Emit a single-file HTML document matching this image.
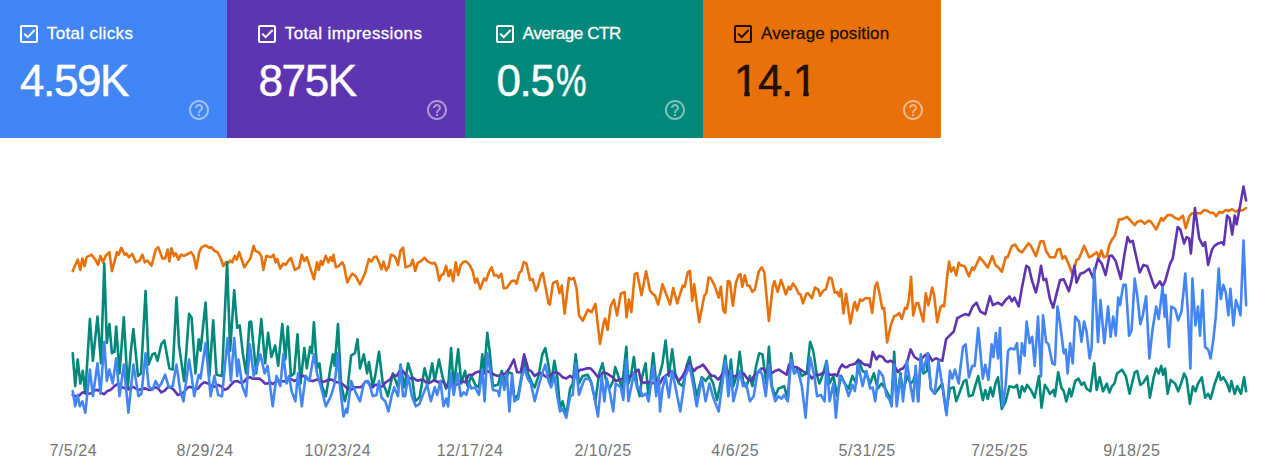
<!DOCTYPE html>
<html lang="en"><head><meta charset="utf-8"><title>Performance</title>
<style>
html,body{margin:0;padding:0;background:#fff;}
body{width:1280px;height:474px;position:relative;overflow:hidden;font-family:"Liberation Sans",sans-serif;}
.card{position:absolute;top:0;height:137.5px;}
.card .cb{position:absolute;top:25.2px;width:18px;height:18px;}
.card .lbl{position:absolute;top:23.5px;font-size:17px;line-height:20px;white-space:nowrap;-webkit-text-stroke:.3px currentColor;}
.card .val{position:absolute;top:57px;font-size:44px;line-height:48px;white-space:nowrap;letter-spacing:-1.4px;-webkit-text-stroke:.45px currentColor;}
.card .val .pct{display:inline-block;transform:scaleX(.78);transform-origin:0 50%;margin-left:2.5px;}
.card .val .one{display:inline-block;clip-path:polygon(0 0,100% 0,100% 72%,69.5% 72%,69.5% 100%,46% 100%,46% 72%,0 72%);}
.card .help{position:absolute;top:97.6px;width:24px;height:24px;opacity:.5;}
svg.chart{position:absolute;left:0;top:0;}
svg.chart polyline{fill:none;stroke-width:2.6;stroke-linejoin:round;stroke-linecap:round;}
svg.chart text{font-family:"Liberation Sans",sans-serif;font-size:16px;fill:#757575;text-anchor:middle;letter-spacing:.55px;}
</style></head><body>
<div class="card" style="left:0px;width:226.5px;background:#4285f4;color:#fff;">
<svg class="cb" style="left:20px" viewBox="0 0 18 18"><path d="M16 2v14H2V2h14m0-2H2C.9 0 0 .9 0 2v14c0 1.1.9 2 2 2h14c1.1 0 2-.9 2-2V2c0-1.100-.9-2-2-2z" fill="#fff"/><path d="M4.200 8.600 7.700 12.100 14.700 5" fill="none" stroke="#fff" stroke-width="2"/></svg>
<div class="lbl" style="left:46.8px;letter-spacing:0.36px">Total clicks</div>
<div class="val" style="left:20px">4.59K</div>
<svg class="help" style="left:186.7px" viewBox="0 0 24 24"><path fill="#fff" d="M11 18h2v-2h-2v2zm1-16C6.480 2 2 6.480 2 12s4.480 10 10 10 10-4.480 10-10S17.520 2 12 2zm0 18c-4.410 0-8-3.590-8-8s3.590-8 8-8 8 3.590 8 8-3.590 8-8 8zm0-14c-2.210 0-4 1.790-4 4h2c0-1.100.9-2 2-2s2 .9 2 2c0 2-3 1.750-3 5h2c0-2.250 3-2.500 3-5 0-2.210-1.790-4-4-4z"/></svg>
</div>
<div class="card" style="left:226.5px;width:238px;background:#5e35b1;color:#fff;">
<svg class="cb" style="left:31.5px" viewBox="0 0 18 18"><path d="M16 2v14H2V2h14m0-2H2C.9 0 0 .9 0 2v14c0 1.1.9 2 2 2h14c1.1 0 2-.9 2-2V2c0-1.100-.9-2-2-2z" fill="#fff"/><path d="M4.200 8.600 7.700 12.100 14.700 5" fill="none" stroke="#fff" stroke-width="2"/></svg>
<div class="lbl" style="left:58.3px;letter-spacing:0.36px">Total impressions</div>
<div class="val" style="left:32.0px">875K</div>
<svg class="help" style="left:198.2px" viewBox="0 0 24 24"><path fill="#fff" d="M11 18h2v-2h-2v2zm1-16C6.480 2 2 6.480 2 12s4.480 10 10 10 10-4.480 10-10S17.520 2 12 2zm0 18c-4.410 0-8-3.590-8-8s3.590-8 8-8 8 3.590 8 8-3.590 8-8 8zm0-14c-2.210 0-4 1.790-4 4h2c0-1.100.9-2 2-2s2 .9 2 2c0 2-3 1.750-3 5h2c0-2.250 3-2.500 3-5 0-2.210-1.790-4-4-4z"/></svg>
</div>
<div class="card" style="left:464.5px;width:238.2px;background:#00897b;color:#fff;">
<svg class="cb" style="left:31.5px" viewBox="0 0 18 18"><path d="M16 2v14H2V2h14m0-2H2C.9 0 0 .9 0 2v14c0 1.1.9 2 2 2h14c1.1 0 2-.9 2-2V2c0-1.100-.9-2-2-2z" fill="#fff"/><path d="M4.200 8.600 7.700 12.100 14.700 5" fill="none" stroke="#fff" stroke-width="2"/></svg>
<div class="lbl" style="left:58.3px;letter-spacing:-0.42px">Average CTR</div>
<div class="val" style="left:32.0px">0.5<span class="pct">%</span></div>
<svg class="help" style="left:198.39999999999998px" viewBox="0 0 24 24"><path fill="#fff" d="M11 18h2v-2h-2v2zm1-16C6.480 2 2 6.480 2 12s4.480 10 10 10 10-4.480 10-10S17.520 2 12 2zm0 18c-4.410 0-8-3.590-8-8s3.590-8 8-8 8 3.590 8 8-3.590 8-8 8zm0-14c-2.210 0-4 1.790-4 4h2c0-1.100.9-2 2-2s2 .9 2 2c0 2-3 1.750-3 5h2c0-2.250 3-2.500 3-5 0-2.210-1.790-4-4-4z"/></svg>
</div>
<div class="card" style="left:702.7px;width:238.1px;background:#e8710a;color:rgba(0,0,0,.87);">
<svg class="cb" style="left:31.5px" viewBox="0 0 18 18"><path d="M16 2v14H2V2h14m0-2H2C.9 0 0 .9 0 2v14c0 1.1.9 2 2 2h14c1.1 0 2-.9 2-2V2c0-1.100-.9-2-2-2z" fill="rgba(0,0,0,.87)"/><path d="M4.200 8.600 7.700 12.100 14.700 5" fill="none" stroke="rgba(0,0,0,.87)" stroke-width="2"/></svg>
<div class="lbl" style="left:58.3px;letter-spacing:0.12px">Average position</div>
<div class="val" style="left:32.0px"><span class="one" style="margin-left:-1px;margin-right:1.2px">1</span>4.<span class="one" style="margin-left:.8px">1</span></div>
<svg class="help" style="left:198.3px" viewBox="0 0 24 24"><path fill="#fff" d="M11 18h2v-2h-2v2zm1-16C6.480 2 2 6.480 2 12s4.480 10 10 10 10-4.480 10-10S17.520 2 12 2zm0 18c-4.410 0-8-3.590-8-8s3.590-8 8-8 8 3.590 8 8-3.590 8-8 8zm0-14c-2.210 0-4 1.790-4 4h2c0-1.100.9-2 2-2s2 .9 2 2c0 2-3 1.750-3 5h2c0-2.250 3-2.500 3-5 0-2.210-1.790-4-4-4z"/></svg>
</div>
<svg class="chart" width="1280" height="474" viewBox="0 0 1280 474">
<polyline points="72.7,271.1 77.7,259.7 80.3,269.9 82.3,258.5 84.6,266.1 86.6,257.2 91.6,254.7 95.4,259.7 98,264.8 100.5,255.9 103,262.3 105.6,255.9 109.4,252.2 111.9,271.1 117,252.2 118.7,254.7 121.3,247.8 124.6,254.7 126.3,253.4 128.9,257.2 132.2,253.9 135.9,262.3 139.7,260.5 142.3,254.7 144.8,262.3 147.3,260.5 151.6,265.6 155.7,249.6 158.2,247.1 162.5,258.5 165.1,258.5 167.6,249.6 169.4,261.5 171.4,248.4 173.9,255.9 175.9,253.4 178.5,259.7 181,254.7 184.1,255.9 191.1,252.2 193.7,255.9 196.2,268.6 199.2,252.2 201.8,247.1 205.6,245.3 209.4,247.8 211.1,247.1 214.4,250.9 217.5,252.2 220.8,258.5 223.3,266.1 225.8,262.3 228.4,263 230.1,260.5 232.2,262.3 234.7,255.9 236.7,259.7 239.2,252.2 241.8,259.7 244.3,267.3 246.8,263.5 250.4,258.5 253.7,245.8 255.4,250.9 258.7,252.2 261.3,255.9 263.3,269.9 266.3,255.9 271.4,257.2 273.4,254.7 275.7,262.3 277.2,259 280.3,268.6 283.3,263.5 285.8,264.8 289.1,259.7 290.9,258 294.9,269.9 299.2,267.3 301.8,254.7 304.3,261 306.8,257.2 313.9,279.2 317,262.3 318.7,269.9 320.8,261 322.5,264.8 325.8,255.9 328.4,262.3 330.4,257.2 332.2,261 333.4,254.7 335.9,267.3 338.5,266.1 342.3,262.3 344.1,266.1 347.3,282.5 350.6,276.2 352.4,273.7 355.7,276.2 360,284.3 365.1,273 368.9,259.1 371.4,261.6 373.9,257.3 376.5,256.5 379.7,264.1 381.5,269.2 383.5,261.6 386.1,270.4 388.4,267.4 390.9,254.7 394.2,256 395.9,258.5 398,264.9 400.5,250.7 403,247.7 405.6,267.4 409.4,265.9 410.6,265.4 412.7,259.8 415.2,270.9 417.7,262.8 420.8,261.3 424.6,257.8 427.8,261.6 432.2,263.6 434.7,262.8 436.7,267.4 439.2,280.6 441.5,275 443.5,274.2 446.1,265.9 448.6,276.3 450.6,269.9 453.2,281.3 455.7,262.3 458.2,275 460.8,264.9 463.8,261.6 466.3,261.6 469.4,264.6 472.7,271.2 475.2,282.6 477.2,278.5 480.3,288.9 484.1,278.5 486.1,280.6 489.1,271.7 491.6,267.4 494.2,275.5 496.7,275 498.7,277.5 501.3,273.7 503.8,288.4 506.8,287.7 511.4,281.3 514.4,280.6 516.5,283.6 519.5,272.5 521.3,271.2 523.8,262.1 526.3,263.4 530.1,280.1 532.7,279.3 535.9,290.7 538,286.4 541,275 542.8,273 548.6,303.4 549.9,304.6 552.9,283.1 557,281.1 559.5,293.2 561.8,285.6 564.6,313.5 568.9,278 571.4,279.3 573.9,278 576.5,288.2 579,315.5 582.8,320.6 587.8,309.7 591.6,312.2 595.4,303.9 600,343.9 603.5,323.6 605.1,318.5 607.6,329.9 610.6,306.4 613.9,299.6 617,315.5 620.8,293.7 624.6,292 626.6,317.3 628.9,299.6 631.4,312.2 634.7,274.2 637.2,273 641.5,295.3 646.1,271.2 649.9,290.2 652.4,293.7 654.9,295.3 658.2,304.6 662.5,284.3 670.1,304.6 673.2,288.1 677.2,303.3 682.8,285.6 684.6,286.8 687.8,272.4 689.9,270.9 692.2,300.8 694.2,284.3 699.2,322.3 704.3,295.7 706.3,293.2 708.6,277.5 710.6,278 714.4,285.1 718.7,297.7 720.8,286.8 723.3,310.4 725.3,312.9 727.8,281 729.9,281.8 732.9,305.8 735.9,283 738.5,275.4 740.5,274.2 742.3,286.8 744.8,275.4 747.3,285.6 749.4,285.6 752.4,291.9 754.9,289.4 758.7,271.6 761.8,267.3 764.3,272.4 768.9,321 772.7,286.8 774.4,281 777.7,291.9 781,280 783.5,286.8 785.8,294.4 788.6,286.8 790.4,289.4 792.9,283.5 795.4,286.8 798.7,293.7 800.5,294.4 803,303.3 806.3,293.7 808.1,293.2 811.9,298.2 814.9,287.6 818.2,289.4 820,295.7 823.3,290.6 825.8,289.4 829.1,277.5 831.6,278.5 834.7,292.7 837.2,291.9 839.2,296.2 841,289.4 843.5,313.4 846.1,293.7 850.4,323.5 853.7,305.3 854.9,302 857,310.4 860,299.5 862.5,300.8 865.1,298.2 869.6,298.2 872.2,312.9 875.2,286.1 877.2,282.5 879.7,294.4 882.3,308.9 884.1,307.8 887.1,342.5 890.9,324.8 894.2,315.9 896.7,315.4 899.2,312.9 901.8,319 905.1,307.8 906.8,308.9 908.9,299.5 911.1,276.7 913.2,315.4 916.2,303.3 918.2,302.8 923.3,321.5 925.8,293.2 928.4,305.3 932.2,287.6 934.2,295.7 937.2,322.3 940.5,307.1 942.3,305.3 944.1,306.3 947.3,275.4 949.1,261.5 951.1,271.6 953.7,267.3 956.2,275.4 958.7,262.8 960,264.9 964.6,266.2 968.9,276.3 972.2,267.5 973.9,270 979.7,257.3 984.1,262.4 987.8,267.5 992.4,256.1 995.4,264.9 998.5,267.5 1001.8,271.8 1005.6,257.3 1007.6,257.3 1011.9,245.9 1015.2,244.7 1018.7,250.5 1022,252.3 1028.4,243.4 1030.9,245.9 1035.9,256.1 1040.5,241.4 1043.5,241.4 1046.1,251 1049.9,257.3 1054.9,257.3 1057.5,249.7 1060,249 1062.5,258.6 1065.1,256.1 1069.4,265.7 1072.7,275.1 1076.5,259.9 1079,258.6 1084.1,245.9 1089.1,257.3 1091.6,256.1 1096.7,252.3 1099.2,257.3 1101.3,250.5 1103.8,257.3 1106.8,256.1 1109.4,244.7 1111.9,239.6 1114.9,235.8 1119,219.4 1122,219.4 1127.1,216.8 1134.7,225.2 1137.2,221.9 1141,220.6 1144.8,223.7 1148.6,220.6 1151.1,221.9 1156.2,229.5 1161.3,218.1 1163,220.6 1167.6,215.1 1171.4,215.1 1175.2,218.1 1179,219.4 1182.8,215.6 1185.8,228.2 1189.1,216.8 1191.6,213.5 1196.7,213 1200.5,213.5 1204.3,210 1206.8,210.5 1210.6,213 1213.2,212.5 1216.2,216.1 1219.5,211.8 1222,213 1225.8,210 1228.4,211 1232.2,209.2 1235.9,211.8 1238.5,210 1242.3,210.5 1246.1,208" stroke="#e8710a"/>
<polyline points="72.7,353.2 75.2,386.1 77.7,359.5 80.3,383.5 82.8,370.9 85.3,393.7 89.9,319 92.9,360.8 97.5,316.5 101,363.3 104.3,263.5 106.8,343 109.4,324.1 111.9,353.2 114.4,351.9 116.2,326.6 119.5,373.4 123.8,317.2 127.8,388.6 130.9,350.6 133.4,329.1 138,375.9 141,373.4 145.6,291.1 148.6,364.6 152.4,354.4 154.9,353.2 157.5,360.8 161.3,344.3 164.3,340.5 169.4,368.4 172.7,369.6 176.5,297.5 179,345.6 184.1,381 189.1,313.9 191.6,317.7 195.4,373.4 198.7,339.2 200.5,350.6 205.6,302.5 209.4,375.9 213.2,320.3 216.5,374.7 222,375.9 227.1,262 230.1,350.6 234.2,290.4 237.2,327.8 239.7,325.3 242.8,353.2 246.1,373.4 249.4,322.3 251.1,321.5 256.2,373.4 261.3,319 265.1,363.3 268.1,332.9 271.4,357 275.2,345.6 278.2,365.8 282.3,324.1 285.3,359.5 287.8,326.6 290.9,375.9 294.2,373.4 297.5,334.2 300.5,383.5 304.3,348.1 306.8,368.4 310.1,346.8 311.9,353.2 313.9,322.3 317,368.4 319.5,363.3 322,386.1 325.8,396.2 329.6,373.4 332.9,354.4 334.7,365.8 338,324.1 341,383.5 344.8,401.3 347.3,391.1 351.1,355.7 354.9,353.2 357.5,339.2 360,368.4 363.8,354.4 367.1,373.4 368.9,362 372.7,386.1 375.2,375.9 379,351.9 382.8,383.5 385.3,388.6 387.8,396.2 392.9,373.4 398,387.3 400.5,364.6 404.3,387.3 408.1,363.3 411.9,375.9 415.2,401.3 419.5,397.5 424.6,368.4 428.4,383.5 432.2,363.3 434.7,381 439,359.5 442.3,375.9 446.1,388.6 448.6,381 451.1,348.1 453.7,387.3 458.2,349.4 461.3,383.5 465.1,370.9 467.6,386.1 471.4,375.9 475.2,384.8 479,387.3 482.3,354.4 484.1,373.4 487.3,332.9 489.6,350.6 492.9,386.1 498,384.8 501.8,370.9 505.6,383.5 508.1,372.2 511.9,373.4 514.4,398.7 518.2,394.9 522,373.4 524.6,360.8 528.4,374.7 532.2,383.5 534.7,387.3 538.5,375.9 542.3,354.4 545.3,348.1 548.6,365.8 551.1,383.5 554.4,360.8 557.5,378.5 560,408.9 562.5,401.3 566.3,415.2 570.1,388.6 572.7,383.5 575.7,354.4 579,383.5 582.8,375.9 587.8,374.7 591.6,383.5 595.4,401.3 599.2,373.4 602.5,363.3 605.6,378.5 609.4,388.6 613.2,381 615.2,367.1 618.2,375.9 622,388.6 626.3,346.8 628.4,383.5 630.9,375.9 633.9,357 637.2,386.1 639.7,396.2 642.3,375.9 645.6,363.3 648.6,398.7 653.2,353.2 656.2,383.5 660,373.4 662.5,363.3 665.6,340.5 668.9,375.9 672.2,349.4 675.2,373.4 679,383.5 682.8,386.1 686.6,365.8 689.6,357 692.9,375.9 696.7,396.2 701.8,377.2 705.6,381 709.4,375.9 713.2,383.5 717,400 722,375.9 725.3,355.7 728.4,383.5 730.9,359.5 733.4,386.1 737.2,373.4 739.7,351.9 743,381 746.1,387.3 749.9,375.9 752.4,386.1 756.2,365.8 759.2,353.2 762.5,354.4 766.3,383.5 768.9,346.8 771.9,386.1 775.2,396.2 778.5,388.6 781.5,387.3 784.1,386.1 787.8,398.7 791.1,353.2 794.2,373.4 798,368.4 801.8,375.9 806.8,373.4 810.1,341.8 813.2,350.6 817,375.9 819.5,383.5 823.3,373.4 826.6,360.8 829.6,383.5 833.4,375.9 837.2,396.2 841,375.9 844.8,383.5 848.6,388.6 852.4,375.9 856.2,383.5 858.2,359.5 862.5,370.9 866.3,373.4 870.1,383.5 873.9,373.4 877.7,388.6 881.5,383.5 885.3,388.6 889.1,396.2 891.6,398.7 894.2,351.9 896.7,401.3 900.5,373.4 903,393.7 906.8,375.9 910.6,383.5 913.2,381 915.7,373.4 918.2,401.3 920.8,358.2 923.3,373.4 927.1,370.9 927.8,353.2 930.9,388.6 934.7,393.7 938.5,388.6 942.3,383.5 946.1,411.4 949.9,388.6 953.7,387.3 956.2,401.3 958.7,394.9 960,391.3 963.8,381.1 966.3,379.9 968.9,396.3 972.7,395.1 975.2,386.2 978.2,376.1 982.8,400.1 985.3,390 987.8,398.9 990.4,387.5 992.9,396.3 995.4,383.7 998,377.3 1001.8,409 1005.6,401.4 1009.4,386.2 1014.4,387.5 1017,384.9 1019.5,397.6 1022,386.2 1024.6,391.3 1027.1,384.9 1030.9,390 1034.7,397.6 1039,376.1 1041.5,407.7 1044.8,384.9 1047.3,388.7 1049.9,393.8 1053.7,390 1054.9,396.3 1058.2,372.3 1061.3,387.5 1063.8,391.3 1066.3,401.4 1069.4,388.7 1071.4,396.3 1075.2,381.1 1078.5,378.6 1081.5,384.9 1084.1,382.4 1086.6,388.7 1090.4,391.3 1094.2,363.4 1096.7,390 1099.7,377.3 1103,391.3 1106.8,383.7 1109.4,392.5 1111.9,386.2 1114.4,383.7 1117,373.5 1122,369.7 1125.8,376.1 1129.6,393.8 1134.7,372.3 1137.2,371 1140.3,384.9 1143.5,382.4 1147.3,376.1 1149.9,397.6 1153.7,377.3 1156.2,368.5 1158.7,373.5 1161.3,365.9 1163,374.8 1165.1,368.5 1167.6,393.8 1170.6,379.9 1175.2,383.7 1178.2,391.3 1181.5,382.4 1184.1,373.5 1186.6,378.6 1189.9,403.9 1192.9,386.2 1195.4,391.3 1198,383.7 1201.8,377.3 1205.1,397.6 1208.1,393.8 1210.6,398.9 1214.4,384.9 1218.7,372.3 1220.8,379.9 1223.3,377.3 1227.1,383.7 1229.6,391.3 1231.4,381.1 1234.7,393.8 1237.2,386.2 1241,393.8 1244.1,377.3 1246.1,391.3" stroke="#00897b"/>
<polyline points="72.7,394.9 75.8,396.4 79,395.7 82.2,392.6 85.3,392.4 88.4,393.8 91.6,393.2 94.8,390.3 98,389.9 101.2,392.9 104.3,394.2 107.4,390.9 110.6,389.9 114.4,386.1 118.2,383.5 122,387.3 125.8,388.6 128.3,389.4 130.9,387.3 133.4,387 135.9,388.6 139.1,389.9 142.3,388.6 145.4,388.4 148.6,389.9 151.8,389.7 154.9,387.3 158.1,388.5 161.3,392.4 164.4,390.8 167.6,387.3 170.8,387.3 173.9,389.9 177.7,394.9 181.5,393.7 184.1,392 186.6,388.6 189.1,386.8 191.6,387.3 194.8,389.4 198,388.6 201.2,384.5 204.3,382.3 208.1,383.5 211.9,386.1 215.1,386.7 218.2,384.8 221.4,386.5 224.6,389.9 227.8,388.5 230.9,384.8 234.1,381.5 237.2,381 240.3,382.6 243.5,382.3 246.7,378.5 249.9,377.2 253.1,378.7 256.2,378.5 259.4,378.6 262.5,381 265.1,383.6 267.6,383.5 270.1,382.1 272.7,384 275.2,382.3 278.4,380.8 281.5,381 284.6,381.5 287.8,379.7 291,379 294.2,381 297.4,379.4 300.5,375.9 303.6,375.9 306.8,378.5 310,380.6 313.2,381 316.4,379.6 319.5,380.5 322.6,382.1 325.8,381 329,379.4 332.2,379.7 335.4,382.3 338.5,382.3 341.6,383.4 344.8,386.1 348,389.1 351.1,389.9 354.3,387.2 357.5,387.3 360,387.3 362.5,386.2 365.1,381.8 367.6,381 370.1,385 372.7,387.3 375.2,384.9 377.7,384.8 380.2,386.9 382.8,386.1 385.3,382.6 387.8,381 390.4,379.1 392.9,374.7 396.7,375.9 400.5,369.6 403.1,371.3 405.6,374.7 408.1,377.7 410.6,378.5 413.1,377.7 415.7,379.7 418.2,380.7 420.8,379.7 423.3,379.7 425.8,382.3 428.4,383.1 430.9,382.3 433.4,380.5 435.9,381 438.4,382.4 441,381 443.5,382.1 446.1,386.5 448.6,387.3 451.8,385.2 454.9,384.8 458.1,384 461.3,381 465.1,382.3 468.9,374.7 472.7,374.7 476.5,372.2 479,371.4 481.5,373.4 484.1,373.1 486.6,370.9 490.4,372.2 494.2,374.7 498,375.9 501.8,374.7 505.6,373.4 509.4,368.4 513.9,359.5 517,372.2 520.8,372.2 524.1,354.4 528.4,369.6 531.5,371.5 534.7,375.9 538.5,373.4 542.3,373.4 544.8,376.1 547.3,377.2 551.1,374.7 554.9,372.2 558.7,373.4 562.5,377.2 566.3,378.5 570.1,375.9 573.9,378.5 577.7,372.2 580.2,369.8 582.8,369.6 586.6,368.4 590.4,368.4 594.2,372.2 598,377.2 600.5,376.1 603,372.2 606.8,373.4 610.6,375.9 613.2,377.5 615.7,381 619.5,379.7 623.3,378.5 627.1,377.2 630.9,375.9 634.7,372.2 638.5,369.6 641,381 643.5,382.9 646.1,382.3 648.6,382.1 651.1,383.5 654.3,382.7 657.5,379.7 660,383.5 662.5,378.3 665.1,375.9 667.6,374.4 670.1,370.9 672.7,372.1 675.2,375.9 679,381 682.8,375.9 686.6,368.4 689.1,363.3 691.7,367.9 694.2,370.9 696.7,367.9 699.2,367.1 703,364.6 706.8,369.6 709.4,373.4 711.9,376 714.4,375.9 718.2,379.7 722,374.7 725.8,370.9 728.3,371.8 730.9,374.7 733.4,376.6 735.9,375.9 739.7,373.4 743.5,373.4 747.3,378.5 751.1,381 753.7,376.4 756.2,373.4 758.8,372 761.3,368.4 763.8,368.9 766.3,372.2 768.8,373.8 771.4,373.4 775.2,370.9 779,369.6 782.8,372.2 786.6,374.7 789.1,364.6 792.9,367.1 796.7,367.1 800.5,369.6 804.3,372.2 808.1,373.4 811.9,378.5 814.5,375.3 817,374.7 819.5,374.9 822,373.4 824.5,371.7 827.1,372.2 829.7,374.8 832.2,374.7 834.7,374.3 837.2,375.9 839.7,368.4 842.3,364.6 844.8,367.1 847.3,367.1 849.8,365 852.4,364.6 855,363.8 857.5,360.8 860,360.7 862.5,363.3 865,364.9 867.6,364.6 870.1,367.1 872.7,351.9 876.5,359.5 879,355.7 882.8,357 885.3,360.8 887.8,362 890.3,360.7 892.9,362 895.5,367.9 898,372.2 900.5,369.2 903,368.4 906.8,363.3 910.6,349.4 914.4,357 918.2,359.5 920.8,359.6 923.3,357 925.8,354.7 928.4,354.4 932.2,360.8 935.9,358.2 938.5,359.5 942.3,360.8 946.1,339.2 948.6,336.7 951.1,334.2 953.7,331.6 957.5,317.7 959.5,317.2 960,316.6 965.1,314.1 968.9,315.3 972.7,306.5 976.5,302.7 980.3,311.5 985.3,314.1 989.9,296.3 992.9,305.2 998,302.7 1001.8,305.2 1005.6,300.1 1009.4,296.3 1011.9,301.4 1014.4,297.6 1018.7,306.5 1022,287.5 1026.3,265.7 1028.9,267.5 1032.2,281.4 1035.9,292.5 1038.5,281.4 1041,265.7 1043.5,280.1 1046.1,278.9 1049.9,298.9 1053.2,307.7 1056.2,295.1 1060,280.1 1063.8,279.4 1068.9,291.3 1071.4,281.4 1074.4,265.7 1076.5,282.7 1080.3,273.8 1084.1,272.5 1089.1,268.7 1092.9,277.6 1098,258.6 1101.8,263.7 1105.6,275.1 1109.4,256.1 1111.9,255.6 1115.7,261.1 1120.8,278.9 1124.6,253.5 1127.6,237.1 1130.1,242.2 1132.7,240.9 1139.7,272.5 1143.5,264.9 1147.3,266.2 1152.4,281.4 1154.9,287.7 1160,281.4 1162.5,286.5 1165.1,281.4 1170.1,263.7 1172.7,258.6 1177.7,227 1180.3,229.5 1184.1,243.4 1186.6,237.1 1189.1,238.4 1190.9,253.5 1194.9,208 1199.2,238.4 1203,245.9 1205.1,242.2 1208.1,264.9 1211.9,249.7 1214.4,245.9 1218.2,243.4 1222,242.2 1223.8,244.7 1227.1,215.6 1229.6,218.1 1232.2,234.6 1234.7,215.6 1236.5,224.4 1239.7,208 1243.5,186.5 1246.1,200.4" stroke="#5e35b1"/>
<polyline points="72.7,391.1 75.2,406.3 77.7,394.9 79.7,406.3 82.3,401.3 85.3,412.7 89.9,369.6 92.9,396.2 97.5,363.3 100.5,393.7 104.3,341.8 106.8,381 109.4,369.6 112.7,383.5 116.2,358.2 119.5,396.2 123.8,364.6 128.4,412.7 133.4,364.6 138.5,396.2 141.5,393.7 145.6,353.2 148.6,386.1 152.4,389.9 155.7,381 158.7,387.3 161.3,383.5 165.1,374.7 168.9,387.3 172.7,386.1 176.5,364.6 180.3,391.1 183.5,401.3 189.1,359.5 191.6,375.9 194.2,396.2 198.7,374.7 200.5,378.5 205.6,343 210.6,396.2 214.4,375.9 218.2,394.9 222,396.2 227.6,338 230.9,381 234.2,338 237.2,375.9 238.5,359.5 242.3,386.1 246.1,396.2 249.9,344.3 253.7,375.9 257.5,364.6 260.5,354.4 264.6,373.4 267.6,365.8 272.7,406.3 276.5,375.9 280.3,386.1 283.3,354.4 286.6,383.5 289.1,375.9 291.6,391.1 295.4,401.3 298,373.4 301.8,406.3 305.6,375.9 309.4,381 313.9,354.4 317,373.4 320.8,386.1 325.8,406.3 330.9,396.2 334.7,383.5 338,353.2 339.7,383.5 343.5,416.5 346.1,408.9 347.3,412.7 351.1,381 356.2,393.7 360,401.3 363.8,383.5 367.1,381 370.1,386.1 372.7,396.2 376.5,394.9 379,381 381.5,397.5 385.3,401.3 388.4,411.4 391.6,396.2 394.2,387.3 398,396.2 400.5,365.8 403,396.2 405.1,396.2 408.1,375.9 411.9,396.2 415.7,406.3 419.5,403.8 423.3,393.7 427.1,384.8 430.9,401.3 434.7,387.3 437.2,394.9 440.5,381 443.5,406.3 446.1,398.7 448.1,406.3 450.6,373.4 453.7,394.9 457.5,373.4 460.8,396.2 463.8,392.4 466.3,394.9 469.4,383.5 471.4,388.6 475.2,387.3 479,394.9 482.3,369.6 484.6,401.3 487.3,353.2 489.6,367.1 492.9,389.9 498,391.1 499.2,396.2 501.8,375.9 504.3,389.9 506.8,373.4 509.4,411.4 511.9,375.9 514.4,401.3 518.2,398.7 522,375.9 524.6,368.4 527.6,378.5 530.9,383.5 534.7,401.3 538.5,386.1 542.3,373.4 545.3,364.6 548.6,381 551.1,387.3 554.4,375.9 557.5,397.5 560,411.4 562.5,408.9 566.3,417.7 570.1,396.2 572.7,394.9 575.7,363.3 579,394.9 582.8,383.5 585.3,378.5 590.4,379.7 594.2,396.2 598,416.5 601.8,375.9 604.3,401.3 606.8,378.5 610.6,396.2 613.2,411.4 615.7,383.5 620.8,387.3 623.3,400 626.3,359.5 628.4,401.3 630.9,388.6 633.9,373.4 637.2,388.6 639.7,387.3 642.3,396.2 646.1,393.7 648.6,401.3 653.2,365.8 656.2,396.2 658.7,375.9 660,411.4 662.5,388.6 665.6,375.9 668.9,397.5 672.2,370.9 675.2,386.1 680.3,411.4 685.3,375.9 689.6,365.8 692.9,383.5 696.7,406.3 701.8,378.5 705.6,401.3 709.4,383.5 713.2,397.5 718.7,411.4 722,386.1 725.3,360.8 728.4,396.2 730.9,370.9 733.4,401.3 737.2,386.1 739.7,370.9 743,386.1 746.1,383.5 749.9,401.3 753.7,396.2 757.5,372.2 760,369.6 762.5,375.9 765.8,396.2 768.9,364.6 771.4,386.1 775.2,401.3 778.5,396.2 781.5,398.7 784.1,394.9 787.8,401.3 791.1,359.5 794.2,373.4 798,370.9 801.8,386.1 805.6,417.7 810.1,357 814.4,375.9 817,396.2 820.8,394.9 824.6,401.3 826.6,362 829.6,401.3 833.4,383.5 835.9,417.7 839.7,375.9 844.8,383.5 848.6,396.2 852.4,384.8 854.9,391.1 858.2,364.6 862.5,386.1 866.3,370.9 870.1,388.6 872.7,387.3 875.2,401.3 879,370.9 882.8,375.9 886.6,396.2 889.1,398.7 891.6,406.3 894.2,364.6 896.7,406.3 900.5,375.9 903,401.3 906.8,360.8 910.1,383.5 913.2,401.3 915.7,365.8 918.2,401.3 920.8,354.4 923.3,370.9 927.8,353.2 930.9,388.6 934.7,393.7 938.5,360.8 942.3,386.1 946.6,415.2 949.9,370.9 952.4,378.5 954.9,369.6 958.7,383.5 960,371 963,347 965.6,344.4 968.9,377.3 972.2,365.9 974.7,365.9 978.2,328 982.8,378.6 985.3,364.7 988.4,379.9 991.6,344.4 993.4,357.1 995.9,333 998,358.4 1000,328 1002.5,406.5 1005.6,386.2 1008.1,350.8 1010.6,348.2 1014.4,349.5 1017,343.2 1019.5,373.5 1022,343.2 1024.6,355.8 1026.6,321.6 1029.6,343.2 1032.2,336.8 1034.7,365.9 1038,316.6 1041,376.1 1043,315.3 1046.1,341.9 1048.6,344.4 1052.4,363.4 1054.9,364.7 1057.5,306.5 1060,322.9 1063.8,353.3 1065.8,349.5 1067.6,373.5 1070.1,343.2 1072.7,363.4 1075.2,316.6 1079,321.6 1081.5,341.9 1084.1,321.6 1086.6,331.8 1089.6,358.4 1091.6,348.2 1094.2,268.5 1098,341.9 1100.5,300.1 1104.3,343.2 1108.1,306.5 1110.6,336.8 1113.2,316.6 1115.7,335.6 1118.2,297.6 1120,305.2 1123.3,284.9 1125.8,284.9 1129.1,335.6 1131.6,330.5 1134.7,278.6 1137.2,295.1 1140.3,324.2 1142.8,315.3 1146.1,296.3 1149.4,358.4 1152.4,330.5 1156.2,306.5 1158.7,319.1 1161.3,297.6 1162.5,287.5 1164.6,316.6 1165.6,295.1 1168.9,347 1171.4,306.5 1175.2,309 1178.2,320.4 1181.5,311.5 1185.3,273.5 1187.8,310.3 1190.4,368.5 1192.4,278.6 1195.4,325.4 1198,306.5 1200,335.6 1202.5,290 1205.1,347 1208.1,349.5 1210.6,358.4 1213.2,340.6 1215.7,317.8 1218.7,268.5 1220.8,298.9 1223.3,284.9 1225.8,292.5 1228.4,315.3 1230.4,288.7 1233.4,325.4 1235.9,300.1 1238.5,307.7 1240.5,315.3 1243.5,240.6 1246.1,305.2" stroke="#4285f4"/>
<text x="73.3" y="455.7">7/5/24</text>
<text x="205.2" y="455.7">8/29/24</text>
<text x="337.8" y="455.7">10/23/24</text>
<text x="470" y="455.7">12/17/24</text>
<text x="603" y="455.7">2/10/25</text>
<text x="735.2" y="455.7">4/6/25</text>
<text x="867.2" y="455.7">5/31/25</text>
<text x="999.5" y="455.7">7/25/25</text>
<text x="1131.8" y="455.7">9/18/25</text>
</svg>
</body></html>
